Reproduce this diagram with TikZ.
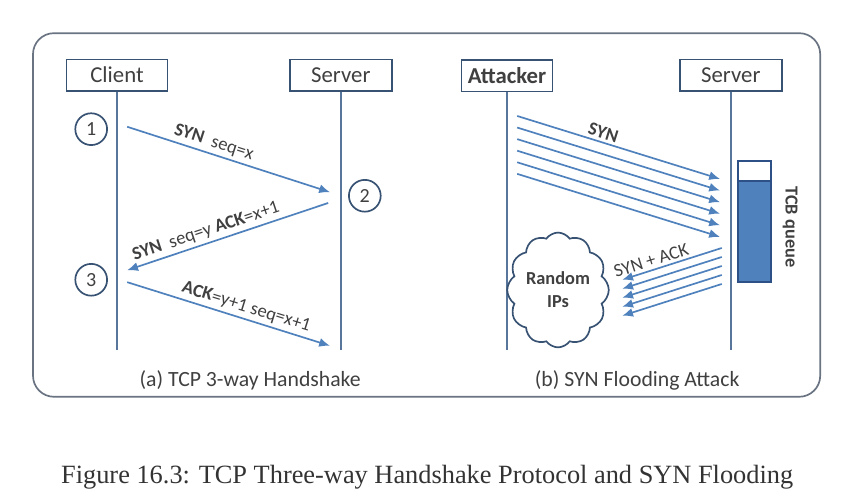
\documentclass[tikz,border=0pt]{standalone}
\usepackage{fontspec}
\setmainfont{Carlito}
\newfontfamily\capfont{Liberation Serif}
\usetikzlibrary{arrows.meta,positioning,shapes.symbols}
\definecolor{linkblue}{RGB}{79,129,189}
\definecolor{lineblue}{RGB}{88,118,155}
\definecolor{boxedge}{RGB}{56,82,115}
\definecolor{frameg}{RGB}{105,115,130}
\definecolor{txtgray}{RGB}{64,64,64}
\definecolor{tcbedge}{RGB}{45,80,135}
\begin{document}
\begin{tikzpicture}[
  host/.style={draw=boxedge,thick,fill=white,minimum width=1.68cm,minimum height=0.52cm,inner sep=0pt,font=\fontsize{10.8}{12}\selectfont,text=txtgray},
  life/.style={lineblue,thick},
  msg/.style={-{Latex[length=1.8mm,width=1.5mm]},linkblue,thick},
  stepno/.style={circle,draw=boxedge,thick,minimum size=0.53cm,inner sep=0pt,font=\fontsize{9.5}{10}\selectfont,text=txtgray},
  lbl/.style={font=\fontsize{8.8}{10}\selectfont,text=txtgray,sloped,above,inner sep=1.5pt},
  panelcap/.style={font=\fontsize{10.3}{12}\selectfont,text=txtgray}
]
\useasboundingbox (0,0) rectangle (14.15,8.333);
\draw[frameg,thick,rounded corners=0.35cm] (0.55,1.72) rectangle (13.67,7.78);

% (a) handshake
\node[host] (client) at (1.95,7.08) {Client};
\node[host,minimum width=1.7cm] (server) at (5.68,7.08) {Server};
\coordinate (clientend) at (client.south |- 0,2.5);
\coordinate (serverend) at (server.south |- 0,2.5);
\draw[life] (client.south) -- (clientend);
\draw[life] (server.south) -- (serverend);

\node[stepno] (n1) at (1.52,6.18) {1};
\node[stepno] (n2) at (6.08,5.07) {2};
\node[stepno] (n3) at (1.52,3.67) {3};

\coordinate (hs1s) at (2.12,6.22);
\coordinate (hs1e) at (5.5,5.13);
\coordinate (hs2s) at (5.47,4.95);
\coordinate (hs2e) at (2.12,3.83);
\coordinate (hs3s) at (2.12,3.63);
\coordinate (hs3e) at (5.5,2.57);
\draw[msg] (hs1s) -- (hs1e) node[lbl,pos=0.41] {\textbf{SYN}\ \ seq=x};
\draw[msg] (hs2s) -- (hs2e) node[lbl,pos=0.59] {\textbf{SYN}\ \ seq=y \textbf{ACK}=x+1};
\draw[msg] (hs3s) -- (hs3e) node[lbl,pos=0.57] {\textbf{ACK}=y+1 seq=x+1};

\node[panelcap] (capa) at (4.17,2.0) {(a) TCP 3-way Handshake};

% (b) syn flooding
\node[host,minimum width=1.52cm,font=\fontsize{10.8}{12}\selectfont\bfseries] (attacker) at (8.45,7.07) {Attacker};
\node[host,minimum width=1.7cm] (victim) at (12.18,7.08) {Server};
\coordinate (attackerend) at (attacker.south |- 0,2.5);
\coordinate (victimend) at (victim.south |- 0,2.5);
\draw[life] (attacker.south) -- (attackerend);
\draw[life] (victim.south) -- (victimend);

\foreach \i in {0,...,5} {
  \coordinate (fl\i-s) at (8.62,{6.4-0.193*\i});
  \coordinate (fl\i-e) at (12.0,{5.35-0.193*\i});
  \draw[msg] (fl\i-s) -- (fl\i-e);
}
\path (fl0-s) -- (fl0-e) node[lbl,pos=0.41] {\textbf{SYN}};

\foreach \i in {0,...,4} {
  \coordinate (sa\i-s) at (12.03,{4.2-0.15*\i});
  \coordinate (sa\i-e) at (10.37,{3.67-0.15*\i});
  \draw[msg] (sa\i-s) -- (sa\i-e);
}
\path (sa0-s) -- (sa0-e) node[lbl,pos=0.68] {SYN + ACK};

\node[draw=tcbedge,thick,fill=linkblue,minimum width=0.55cm,minimum height=2.02cm,inner sep=0pt] (tcb) at (12.575,4.64) {};
\node[draw=tcbedge,thick,fill=white,anchor=north,minimum width=0.55cm,minimum height=0.33cm,inner sep=0pt] (tcbfree) at (tcb.north) {};
\node[rotate=-90,font=\fontsize{8.7}{10}\selectfont\bfseries,text=txtgray] (tcblabel) at (13.17,4.55) {TCB queue};

\node[cloud,cloud puffs=12,cloud puff arc=110,aspect=0.85,draw=boxedge,thick,fill=white,minimum width=1.55cm,minimum height=1.9cm,inner sep=0pt,align=center,font=\fontsize{8.7}{11}\selectfont\bfseries,text=txtgray] (ips) at (9.3,3.5) {Random\\IPs};

\node[panelcap] (capb) at (10.62,2.0) {(b) SYN Flooding Attack};

\node[font=\capfont\fontsize{12.5}{14}\selectfont,text=black!80] (figcap) at (7.12,0.38) {Figure 16.3: TCP Three-way Handshake Protocol and SYN Flooding};
\end{tikzpicture}
\end{document}
